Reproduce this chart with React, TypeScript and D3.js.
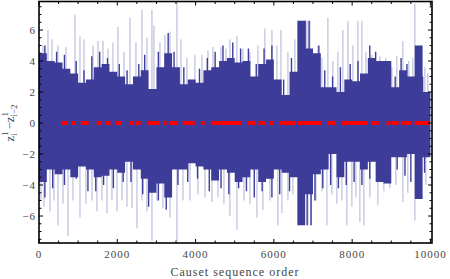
import React from 'react'
import * as d3 from 'd3'

// dense core of the blue series, one value per 200-step bin
const binSize = 200
const coreHi = [4.5, 4.0, 3.9, 3.5, 3.2, 2.6, 2.8, 3.6, 3.8, 3.3, 3.0, 2.5, 3.0, 3.4,
  2.2, 3.6, 4.5, 3.6, 2.5, 2.8, 2.6, 3.4, 3.6, 4.0, 4.2, 3.9, 4.0, 3.0, 3.8, 4.1, 2.8, 1.8, 3.3,
  6.6, 4.8, 4.5, 2.3, 2.3, 2.0, 2.8, 2.7, 3.2, 4.2, 4.0, 4.0, 2.3, 3.4, 3.0, 5.0, 2.0]
const coreLo = [-3.8, -3.0, -3.3, -3.0, -3.5, -2.8, -3.0, -3.5, -3.4, -3.0, -3.2, -2.5, -3.0, -3.6,
  -4.5, -3.9, -4.8, -3.0, -3.0, -2.6, -2.8, -3.0, -3.7, -3.0, -3.2, -3.8, -3.5, -3.0, -3.8, -3.6, -3.0, -3.2, -3.5,
  -6.6, -4.6, -3.3, -3.0, -2.0, -3.5, -2.5, -2.5, -3.0, -2.5, -3.8, -3.9, -2.2, -2.2, -2.0, -4.9, -2.2]

// shorter dark excursions just past the core
const midUpX = [150, 450, 650, 950, 1150, 1350, 1550, 1750, 2050, 2250, 2550, 2700, 3050, 3300, 3450, 3700, 4100,
  4300, 4500, 4700, 4950, 5150, 5350, 5550, 5750, 5950, 6250, 6450, 6800, 6900, 7150, 7300, 7500, 7700, 7950, 8150,
  8450, 8600, 9100, 9250, 9400, 9800]
const midUpY = [5.0, 4.6, 4.4, 4.0, 3.4, 4.3, 4.6, 4.2, 3.8, 3.4, 3.8, 4.4, 4.6, 5.8, 4.6, 3.6, 3.5,
  4.2, 4.6, 5.0, 5.2, 4.8, 4.8, 3.8, 4.8, 5.0, 2.8, 4.2, 6.6, 6.6, 5.0, 3.4, 3.0, 3.6, 3.8, 4.0,
  5.0, 4.6, 3.0, 4.2, 3.8, 3.0]
const midDownX = [150, 350, 650, 950, 1250, 1450, 1650, 1900, 2150, 2350, 2650, 2800, 3050, 3250, 3550, 3800, 4050,
  4350, 4650, 4850, 5100, 5300, 5500, 5700, 5950, 6150, 6400, 6650, 6850, 6950, 7050, 7250, 7450, 7650, 7850, 8050,
  8250, 8450, 8950, 9150, 9350, 9500, 9850]
const midDownY = [-4.8, -4.2, -4.0, -3.6, -4.4, -4.4, -4.0, -4.2, -3.8, -3.8, -4.6, -5.4, -5.0, -5.6, -4.0, -3.8, -3.6,
  -4.4, -4.2, -4.6, -4.2, -4.4, -4.8, -4.4, -4.8, -4.6, -4.4, -5.0, -6.6, -6.6, -5.0, -4.2, -4.0, -4.2, -4.0, -3.8,
  -4.0, -3.6, -3.2, -3.0, -3.4, -3.8, -3.2]

// isolated excursions of the blue series
const upX = [102, 230, 332, 485, 690, 919, 1047, 1149, 1379, 1507, 1635, 1762, 1890, 2018, 2171, 2324, 2477, 2631,
  2758, 2886, 2937, 3090, 3218, 3346, 3524, 3627, 3780, 3984, 4163, 4316, 4444, 4648, 4776, 4878, 5057, 5210, 5389,
  5593, 5772, 5951, 6079, 6181, 6360, 6538, 6666, 6743, 6845, 6921, 7126, 7228, 7381, 7509, 7636, 7764, 7892, 8020,
  8147, 8249, 8352, 8505, 8709, 8862, 9016, 9143, 9297, 9450, 9552, 9603, 9731, 9858, 9935]
const upY = [5.0, 6.0, 5.4, 5.0, 4.9, 7.0, 5.6, 5.4, 5.0, 5.3, 5.3, 4.8, 5.2, 6.2, 4.6, 6.8, 5.2, 7.3,
  5.5, 7.3, 6.3, 5.2, 5.7, 5.9, 7.7, 5.4, 4.2, 4.4, 4.4, 4.7, 4.9, 4.9, 4.8, 5.4, 5.6, 4.8, 4.6,
  5.0, 6.1, 6.0, 5.0, 6.0, 4.6, 5.4, 6.6, 6.6, 6.6, 6.6, 5.0, 4.2, 6.8, 4.0, 4.6, 6.0, 6.6, 5.0,
  6.6, 6.6, 4.6, 4.4, 4.3, 4.2, 3.6, 4.3, 5.3, 4.0, 4.2, 7.7, 5.0, 3.6, 3.2]
const downX = [51, 128, 281, 383, 485, 613, 741, 868, 1047, 1200, 1354, 1481, 1609, 1737, 1864, 1992, 2120, 2248,
  2375, 2503, 2631, 2758, 2886, 3014, 3167, 3346, 3524, 3678, 3857, 4061, 4240, 4418, 4572, 4725, 4878, 5057, 5236,
  5389, 5568, 5721, 5900, 6104, 6206, 6360, 6487, 6666, 6768, 6870, 6947, 7075, 7228, 7356, 7483, 7611, 7738, 7866,
  7994, 8096, 8198, 8300, 8454, 8658, 8811, 8964, 9118, 9297, 9424, 9603, 9731, 9884]
const downY = [-5.0, -5.4, -5.7, -5.0, -6.6, -5.2, -7.3, -5.0, -6.1, -5.2, -5.0, -5.7, -5.0, -5.8, -5.0, -5.7, -5.0, -5.4,
  -5.5, -6.8, -5.0, -5.7, -7.6, -5.0, -5.5, -6.1, -7.6, -5.0, -5.0, -4.6, -4.8, -5.1, -4.8, -5.2, -6.0, -6.9, -5.0,
  -5.2, -6.1, -5.6, -5.0, -6.6, -5.8, -5.0, -4.6, -6.6, -6.6, -6.6, -6.6, -5.0, -4.4, -6.6, -4.6, -5.2, -5.0, -6.6,
  -5.4, -4.8, -6.4, -6.6, -4.8, -5.3, -4.4, -4.2, -4.0, -5.1, -4.5, -6.3, -4.6, -4.0]

// red points sitting on zero
const redStart = [570, 825, 1065, 1474, 1693, 1949, 2306, 2460, 2784, 3175, 3346, 3670, 4145, 4401, 5338, 5611, 5900,
  6137, 6615, 7363, 7739, 8487, 8880, 9016, 9253, 9595]
const redEnd = [741, 927, 1269, 1591, 1831, 2102, 2408, 2597, 3072, 3261, 3550, 3977, 4232, 5167, 5524, 5798, 6002,
  6546, 7210, 7585, 8403, 8676, 8982, 9187, 9509, 9968]

const xTicks = [0, 2000, 4000, 6000, 8000, 10000]
const yTicks = [-6, -4, -2, 0, 2, 4, 6]

const W = 450, H = 279
const L = 39, R = 432, T = 1.5, B = 243
const blue = '#3d3d99'
const serif = '"Liberation Serif", "Times New Roman", serif'

export default function App() {
  const x = d3.scaleLinear().domain([0, 10040]).range([L, R])
  const y = d3.scaleLinear().domain([-7.74, 7.84]).range([B, T])

  const bins = coreHi.map((h, i) => ({ x: i * binSize, hi: h, lo: coreLo[i] }))
  bins.push({ x: bins.length * binSize, hi: coreHi[coreHi.length - 1], lo: coreLo[coreLo.length - 1] })
  const core = d3.area<any>()
    .x(d => x(d.x))
    .y0(d => y(d.lo))
    .y1(d => y(d.hi))
    .curve(d3.curveStepAfter)

  const minorX = d3.range(0, 10001, 500)
  const minorY = d3.range(-7.5, 7.51, 0.5)
  const fmt = (v: number) => (v < 0 ? '\u2212' + Math.abs(v) : String(v))

  const spikes = (xs: number[], ys: number[], key: string, op: number, sw: number) =>
    xs.map((v, i) => (
      <line key={key + i} x1={x(v)} x2={x(v)} y1={y(0)} y2={y(ys[i])}
        stroke={blue} strokeOpacity={op} strokeWidth={sw} />
    ))

  return (
    <svg width={W} height={H} style={{ position: 'absolute', left: 0, top: 0 }}>
      <defs>
        <clipPath id="plot">
          <rect x={L} y={T} width={R - L} height={B - T} />
        </clipPath>
      </defs>
      <g clipPath="url(#plot)">
        {spikes(upX, upY, 'u', 0.45, 0.9)}
        {spikes(downX, downY, 'd', 0.45, 0.9)}
        {spikes(midUpX, midUpY, 'mu', 1, 1.4)}
        {spikes(midDownX, midDownY, 'md', 1, 1.4)}
        <path d={core(bins) || ''} fill={blue} />
        {redStart.map((s, i) => (
          <line key={'r' + i} x1={x(s)} x2={x(redEnd[i])} y1={y(0)} y2={y(0)}
            stroke="#ff0000" strokeWidth={4} />
        ))}
      </g>

      <g stroke="#000" strokeWidth={1}>
        {minorX.map(v => {
          const len = v % 2000 === 0 ? 4 : 2.5
          return (
            <g key={'tx' + v}>
              <line x1={x(v)} x2={x(v)} y1={B} y2={B - len} />
              <line x1={x(v)} x2={x(v)} y1={T} y2={T + len} />
            </g>
          )
        })}
        {minorY.map(v => {
          const len = Math.abs(v % 2) < 1e-6 ? 4 : 2.5
          return (
            <g key={'ty' + v}>
              <line x1={L} x2={L + len} y1={y(v)} y2={y(v)} />
              <line x1={R} x2={R - len} y1={y(v)} y2={y(v)} />
            </g>
          )
        })}
      </g>
      <rect x={L} y={T} width={R - L} height={B - T} fill="none" stroke="#000" strokeWidth={1.6} />

      <g fontFamily={serif} fontSize={11} fill="#444">
        {xTicks.map(v => (
          <text key={'lx' + v} x={x(v)} y={257.5} textAnchor="middle" letterSpacing={1}>{v}</text>
        ))}
        {yTicks.map(v => (
          <text key={'ly' + v} x={36} y={y(v) + 3.8} textAnchor="end" letterSpacing={1}>{fmt(v)}</text>
        ))}
      </g>

      <text x={235} y={276} textAnchor="middle" fontFamily={serif} fontSize={12} letterSpacing={1} fill="#444">
        Causet sequence order
      </text>
      <text transform="translate(13.5,123) rotate(-90)" textAnchor="middle" fontFamily={serif} fontSize={12.5} fill="#444">
        z<tspan fontSize={9} dy={3.5}>i</tspan>
        <tspan fontSize={9} dx={-2.5} dy={-9}>1</tspan>
        <tspan fontSize={12.5} dx={2} dy={5.5}>{'\u2212'}z</tspan>
        <tspan fontSize={9} dy={3.5}>{'i\u22122'}</tspan>
        <tspan fontSize={9} dx={-12} dy={-9}>1</tspan>
      </text>
    </svg>
  )
}
